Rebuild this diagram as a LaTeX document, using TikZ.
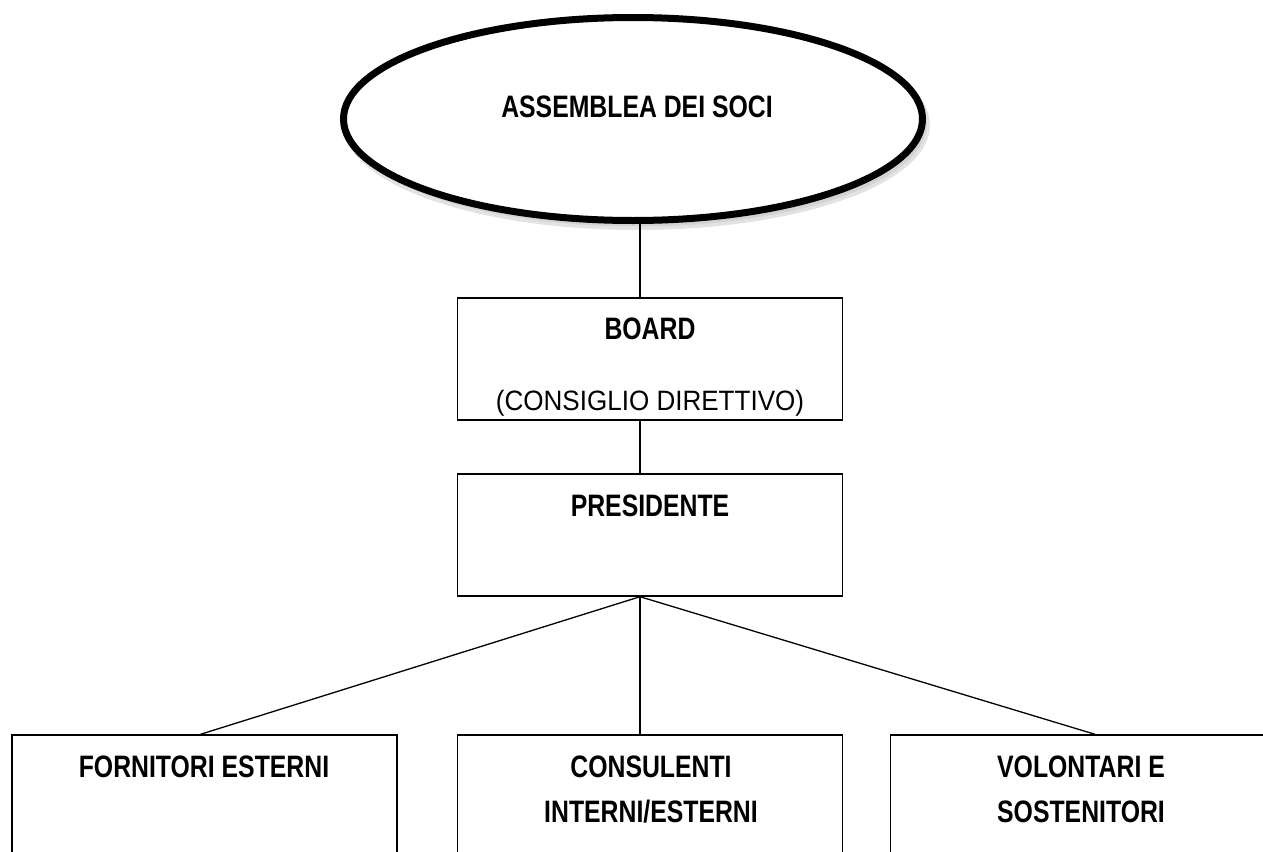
\documentclass[tikz,border=0pt]{standalone}
\usepackage{fontspec}
\setmainfont{Liberation Sans}[FakeStretch=0.93]
\newfontfamily\narrowfont{Liberation Sans}[FakeStretch=0.8]
\usepackage{tikz}
\usetikzlibrary{shapes.geometric,shadows}
\tikzset{>=latex}
\tikzset{
  orgbox/.style={draw, line width=1.4pt, minimum width=385pt, minimum height=122pt, inner sep=0pt},
  boldtxt/.style={font=\narrowfont\bfseries\fontsize{31}{45}\selectfont, align=center, anchor=base, inner sep=0pt},
  plaintxt/.style={font=\fontsize{28}{34}\selectfont, anchor=base, inner sep=0pt},
  link/.style={line width=1.3pt}
}

\begin{document}
\begin{tikzpicture}[x=1pt,y=-1pt]
    \useasboundingbox (0,0) rectangle (1263,851);
    \clip (0,0) rectangle (1263,851);
    \fill[white] (0,0) rectangle (1263,851);
    \coordinate (spine) at (640,0);
    \node[ellipse, draw, fill=white, line width=7pt, minimum width=579pt, minimum height=203pt,
          drop shadow={shadow xshift=4pt, shadow yshift=-6pt, draw=gray!45, fill=gray!45, line width=7pt}]
          (assemblea) at (633,119) {};
    \node[boldtxt] (assembleatxt) at (637,117) {ASSEMBLEA DEI SOCI};
    \node[orgbox] (board) at (650,359) {};
    \node[boldtxt] (boardtxt) at (650,339) {BOARD};
    \node[plaintxt] (consigliotxt) at (650,410) {(CONSIGLIO DIRETTIVO)};
    \node[orgbox] (presidente) at (650,535) {};
    \node[boldtxt] (presidentetxt) at (650,516) {PRESIDENTE};
    \node[orgbox] (fornitori) at (204.5,796) {};
    \node[boldtxt] (fornitoritxt) at (204,777) {FORNITORI ESTERNI};
    \node[orgbox] (consulenti) at (650,796) {};
    \node[boldtxt] (consulentitxt) at (651,822) {CONSULENTI\\INTERNI/ESTERNI};
    \node[orgbox] (volontari) at (1083,796) {};
    \node[boldtxt] (volontaritxt) at (1081,822) {VOLONTARI E\\SOSTENITORI};
    \draw[link] (assemblea.south -| spine) -- (board.north -| spine);
    \draw[link] (board.south -| spine) -- (presidente.north -| spine);
    \draw[link] (presidente.south -| spine) -- ([xshift=-4pt]fornitori.north);
    \draw[link] (presidente.south -| spine) -- (consulenti.north -| spine);
    \draw[link] (presidente.south -| spine) -- ([xshift=12pt]volontari.north);
  \end{tikzpicture}
\end{document}
